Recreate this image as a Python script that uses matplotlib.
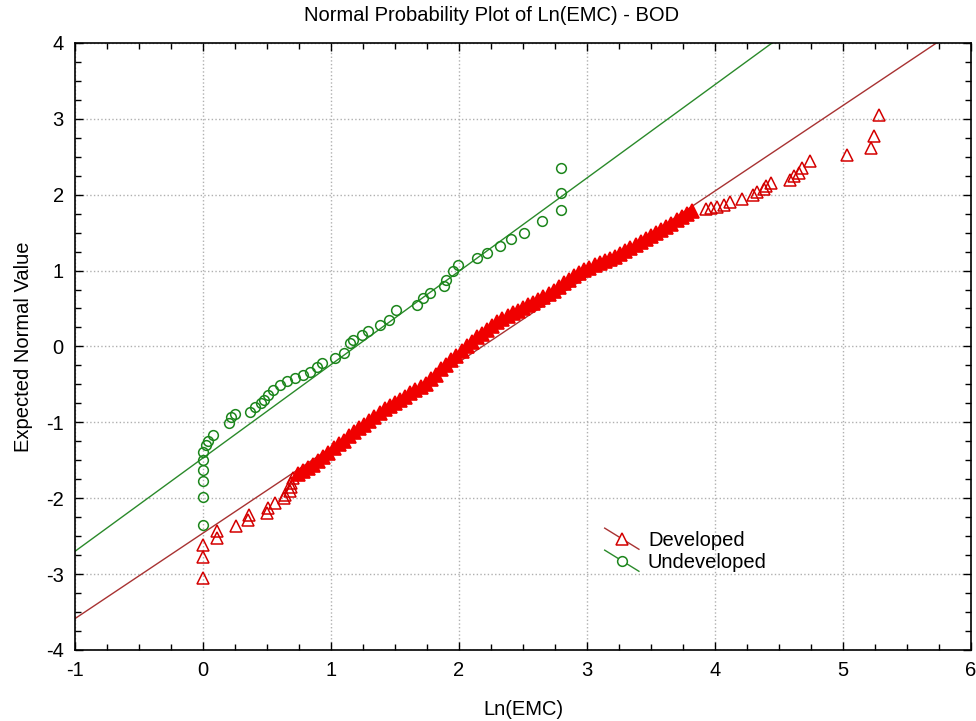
import numpy as np
import matplotlib
matplotlib.use("Agg")
import matplotlib.pyplot as plt
from matplotlib.lines import Line2D
from matplotlib.legend_handler import HandlerBase
from matplotlib.ticker import MultipleLocator

plt.rcParams['font.family'] = ['Liberation Sans', 'DejaVu Sans']
plt.rcParams['axes.unicode_minus'] = False

# Developed sites, sparse tails: Ln(EMC) vs expected normal value
dev_x = [0.00, 0.00, 0.00, 0.11, 0.11, 0.26, 0.35, 0.36, 0.50, 0.51, 0.56, 0.63, 0.64,
         0.68, 0.69, 0.69, 0.70,
         3.93, 3.97, 4.02, 4.07, 4.12, 4.21, 4.30, 4.33, 4.38, 4.40, 4.44, 4.59, 4.62,
         4.66, 4.68, 4.74, 5.03, 5.22, 5.24, 5.28]
dev_y = [-3.05, -2.78, -2.62, -2.52, -2.43, -2.36, -2.29, -2.22, -2.20, -2.13, -2.06, -2.00, -1.96,
         -1.91, -1.85, -1.80, -1.74,
         1.81, 1.82, 1.84, 1.87, 1.90, 1.94, 2.00, 2.04, 2.07, 2.11, 2.16, 2.19, 2.24,
         2.29, 2.35, 2.44, 2.52, 2.62, 2.77, 3.05]

# Developed sites, dense middle run (markers overlap into a solid band)
band_x = [0.74, 0.78, 0.82, 0.86, 0.90, 0.94, 0.98, 1.02, 1.06, 1.10, 1.14, 1.18, 1.22,
          1.26, 1.30, 1.34, 1.38, 1.42, 1.46, 1.50, 1.54, 1.58, 1.62, 1.66, 1.70, 1.74,
          1.78, 1.82, 1.86, 1.90, 1.94, 1.98, 2.02, 2.06, 2.10, 2.14, 2.18, 2.22, 2.26,
          2.30, 2.34, 2.38, 2.42, 2.46, 2.50, 2.54, 2.58, 2.62, 2.66, 2.70, 2.74, 2.78,
          2.82, 2.86, 2.90, 2.94, 2.98, 3.02, 3.06, 3.10, 3.14, 3.18, 3.22, 3.26, 3.30,
          3.34, 3.38, 3.42, 3.46, 3.50, 3.54, 3.58, 3.62, 3.66, 3.70, 3.74, 3.78, 3.82]
band_y = [-1.68, -1.64, -1.60, -1.56, -1.51, -1.46, -1.40, -1.34, -1.29, -1.24, -1.18, -1.13, -1.08,
          -1.03, -0.98, -0.93, -0.88, -0.83, -0.78, -0.74, -0.70, -0.66, -0.62, -0.58, -0.54, -0.49,
          -0.43, -0.37, -0.30, -0.24, -0.18, -0.12, -0.06, 0.00, 0.06, 0.12, 0.17, 0.22, 0.27,
          0.32, 0.36, 0.40, 0.44, 0.47, 0.50, 0.54, 0.57, 0.61, 0.65, 0.69, 0.73, 0.78,
          0.83, 0.88, 0.93, 0.97, 1.01, 1.04, 1.07, 1.10, 1.13, 1.15, 1.18, 1.22, 1.26,
          1.30, 1.34, 1.38, 1.42, 1.46, 1.50, 1.54, 1.58, 1.62, 1.66, 1.70, 1.74, 1.78]

# Undeveloped sites
und_x = [0.00, 0.00, 0.00, 0.00, 0.00, 0.00, 0.02, 0.04, 0.08,
         0.20, 0.22, 0.25, 0.37, 0.41, 0.45, 0.48, 0.51, 0.55, 0.60,
         0.66, 0.72, 0.78, 0.84, 0.89, 0.93, 1.03, 1.10, 1.15, 1.17, 1.24, 1.29,
         1.38, 1.45, 1.51, 1.67, 1.72, 1.77, 1.88, 1.90, 1.95, 1.99, 2.14, 2.22,
         2.32, 2.41, 2.51, 2.65, 2.80, 2.80, 2.80]
und_y = [-2.35, -1.99, -1.77, -1.63, -1.50, -1.39, -1.30, -1.24, -1.17,
         -1.01, -0.93, -0.89, -0.86, -0.80, -0.75, -0.71, -0.64, -0.57, -0.51,
         -0.46, -0.42, -0.38, -0.34, -0.27, -0.22, -0.15, -0.09, 0.05, 0.09, 0.15, 0.20,
         0.28, 0.35, 0.48, 0.55, 0.64, 0.70, 0.79, 0.88, 0.99, 1.07, 1.17, 1.23,
         1.32, 1.42, 1.50, 1.65, 1.80, 2.02, 2.35]

# fitted reference lines: expected = slope * ln(EMC) + intercept
dev_slope, dev_icpt = 1.127, -2.46
und_slope, und_icpt = 1.23, -1.47

red_mk, red_ln = '#d40000', '#a83232'
band_col = '#f00000'
grn_mk, grn_ln = '#1c861c', '#2a8a2a'
fs = 14.5

fig = plt.figure(figsize=(9.76, 7.21), dpi=100)
ax = fig.add_axes([0.0768, 0.0985, 0.918, 0.842])

xs = np.array([-1.0, 6.0])
ax.plot(xs, dev_slope * xs + dev_icpt, color=red_ln, lw=1, zorder=2)
ax.plot(xs, und_slope * xs + und_icpt, color=grn_ln, lw=1, zorder=2)

ax.plot(dev_x, dev_y, linestyle='none', marker='^', markersize=8,
        mfc='none', mec=red_mk, mew=1.1, zorder=3)
ax.plot(band_x, band_y, linestyle='none', marker='^', markersize=10.5,
        mfc=band_col, mec=band_col, mew=1.2, zorder=3)
ax.plot(und_x, und_y, linestyle='none', marker='o', markersize=7,
        mfc='none', mec=grn_mk, mew=1.1, zorder=3)

ax.set_xlim(-1, 6)
ax.set_ylim(-4, 4)
ax.xaxis.set_major_locator(MultipleLocator(1))
ax.yaxis.set_major_locator(MultipleLocator(1))
ax.xaxis.set_minor_locator(MultipleLocator(0.25))
ax.yaxis.set_minor_locator(MultipleLocator(0.25))
ax.tick_params(which='both', direction='in', top=True, right=True, labelsize=fs, colors='black')
ax.tick_params(which='major', length=6, width=1, pad=8)
ax.tick_params(which='minor', length=4, width=1)
ax.grid(True, which='major', linestyle=':', color='#b0b0b0', linewidth=1)
for s in ax.spines.values():
    s.set_linewidth(1.2)

fig.text(0.504, 0.978, 'Normal Probability Plot of Ln(EMC) - BOD', fontsize=fs,
         ha='center', va='center')
ax.set_xlabel('Ln(EMC)', fontsize=fs, labelpad=14)
ax.set_ylabel('Expected Normal Value', fontsize=fs, labelpad=9)


class SlantHandler(HandlerBase):
    # legend key drawn as a short slanted line with the marker in the middle
    def create_artists(self, legend, orig_handle, xdescent, ydescent, width, height,
                       fontsize, trans):
        x0, x1 = -xdescent, -xdescent + width
        y0, y1 = -ydescent, -ydescent + height
        seg = Line2D([x0, x1], [y1 + 0.25 * height, y0 - 0.25 * height],
                     color=orig_handle.get_color(), lw=1)
        mk = Line2D([(x0 + x1) / 2], [(y0 + y1) / 2], linestyle='none',
                    marker=orig_handle.get_marker(), markersize=orig_handle.get_markersize(),
                    mfc='white', mec=orig_handle.get_markeredgecolor(), mew=1.1)
        seg.set_transform(trans)
        mk.set_transform(trans)
        return [seg, mk]


h_dev = Line2D([], [], color=red_ln, marker='^', markersize=8, mec=red_mk)
h_und = Line2D([], [], color=grn_ln, marker='o', markersize=7, mec=grn_mk)
ax.legend([h_dev, h_und], ['Developed', 'Undeveloped'], loc='upper left',
          bbox_to_anchor=(0.58, 0.213), frameon=False, fontsize=fs, borderpad=0,
          handlelength=1.7, handletextpad=0.45, labelspacing=0.15,
          handler_map={Line2D: SlantHandler()})

fig.savefig('out.png', dpi=100)
